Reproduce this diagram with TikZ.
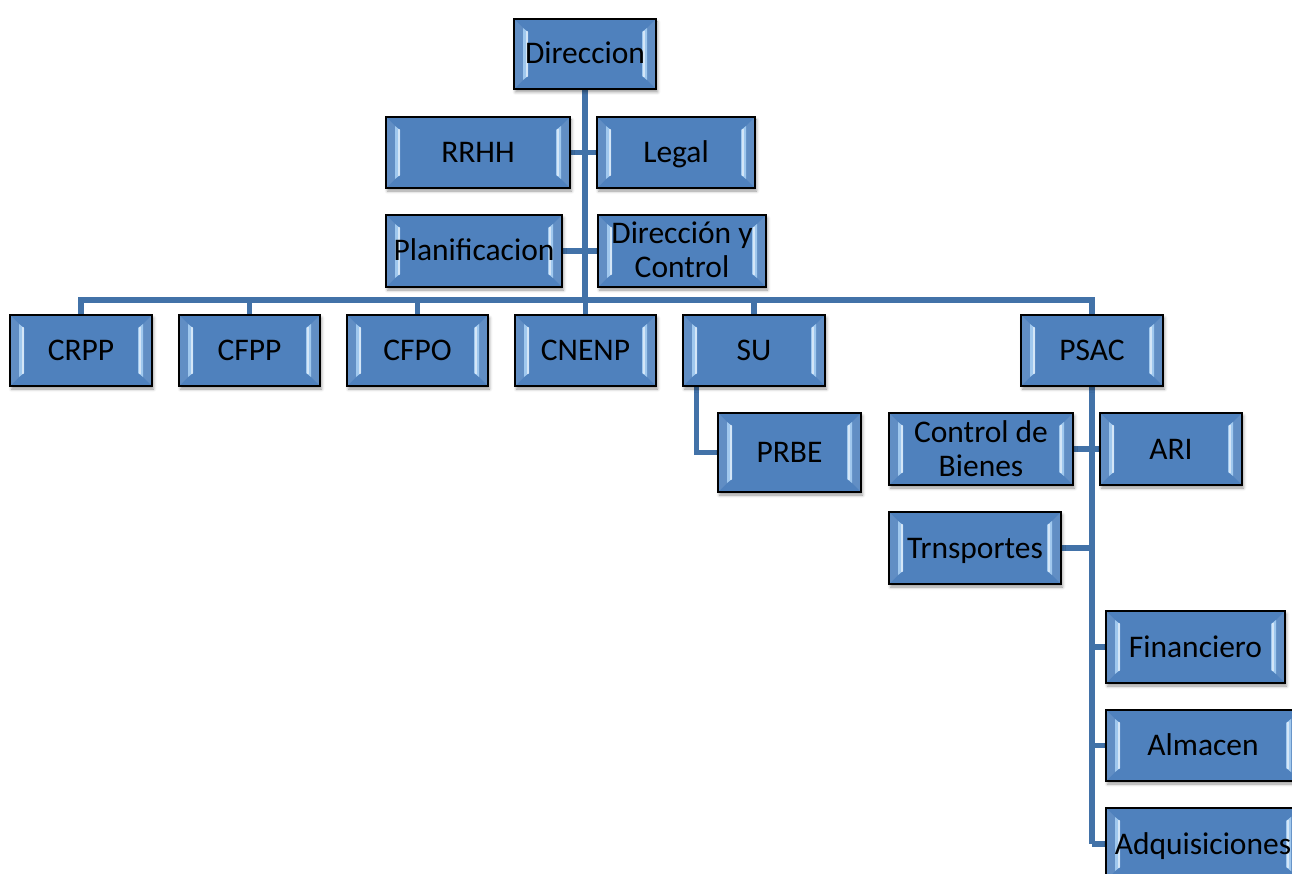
\documentclass[tikz,border=0pt]{standalone}
\usepackage{fontspec}
\setmainfont{Carlito}
\usetikzlibrary{calc,shadows.blur}
\pgfdeclarelayer{bg}
\pgfsetlayers{bg,main}
\definecolor{boxblue}{RGB}{79,129,189}
\definecolor{linkblue}{RGB}{66,114,168}
\definecolor{bevlight}{RGB}{160,200,238}
\tikzset{
  orgbox/.style={draw=black, line width=1.4pt, fill=boxblue, inner sep=0pt,
    align=center, text=black, font=\fontsize{31.5}{34}\selectfont,
    text height=20pt, text depth=0pt,
    blur shadow={shadow xshift=1.5pt, shadow yshift=-3pt, shadow blur radius=3pt, shadow opacity=40},
    path picture={
      \fill[boxblue!90!white]
        ($(path picture bounding box.north west)+(1,1)$) --
        ($(path picture bounding box.north west)+(9,9)$) --
        ($(path picture bounding box.south west)+(9,-9)$) --
        ($(path picture bounding box.south west)+(1,-1)$) -- cycle;
      \fill[boxblue!90!white]
        ($(path picture bounding box.north east)+(-1,1)$) --
        ($(path picture bounding box.north east)+(-9,9)$) --
        ($(path picture bounding box.south east)+(-9,-9)$) --
        ($(path picture bounding box.south east)+(-1,-1)$) -- cycle;
      \fill[bevlight]
        ($(path picture bounding box.north west)+(9,9)$) --
        ($(path picture bounding box.north west)+(14,13)$) --
        ($(path picture bounding box.south west)+(14,-13)$) --
        ($(path picture bounding box.south west)+(9,-9)$) -- cycle;
      \fill[bevlight]
        ($(path picture bounding box.north east)+(-9,9)$) --
        ($(path picture bounding box.north east)+(-14,13)$) --
        ($(path picture bounding box.south east)+(-14,-13)$) --
        ($(path picture bounding box.south east)+(-9,-9)$) -- cycle;
      \fill[white, opacity=0.55]
        ($(path picture bounding box.north west)+(11.5,12)$) rectangle
        ($(path picture bounding box.south west)+(13.5,-12)$);
      \fill[white, opacity=0.55]
        ($(path picture bounding box.north east)+(-11.5,12)$) rectangle
        ($(path picture bounding box.south east)+(-13.5,-12)$);
    }},
  twoline/.style={text height=54pt, text depth=0pt},
  link/.style={draw=linkblue, line width=5.5pt}
}
\newcommand{\obox}[7][]{%
  \pgfmathsetmacro{\bw}{#5-#3}\pgfmathsetmacro{\bh}{#6-#4}%
  \pgfmathsetmacro{\bx}{(#3+#5)/2}\pgfmathsetmacro{\by}{(#4+#6)/2}%
  \node[orgbox, minimum width=\bw pt, minimum height=\bh pt, #1] (#2) at (\bx,\by) {#7};}
\begin{document}
\begin{tikzpicture}[x=1pt,y=-1pt]
\useasboundingbox (0,0) rectangle (1292,874);
\obox{dir}{514}{19}{656}{89}{Direccion}
\obox{rrhh}{386}{117}{570}{188}{RRHH}
\obox{legal}{597}{117}{755}{188}{Legal}
\obox{plan}{386}{215}{562}{287}{Planificacion}
\obox[twoline]{dyc}{598}{215}{766}{287}{Dirección y\\Control}
\obox{crpp}{10}{315}{152}{386}{CRPP}
\obox{cfpp}{179}{315}{320}{386}{CFPP}
\obox{cfpo}{347}{315}{488}{386}{CFPO}
\obox{cnenp}{515}{315}{656}{386}{CNENP}
\obox{su}{683}{315}{825}{386}{SU}
\obox{psac}{1021}{315}{1163}{386}{PSAC}
\obox{prbe}{718}{413}{861}{492}{PRBE}
\obox[twoline]{cdb}{889}{413}{1073}{485}{Control de\\Bienes}
\obox{ari}{1100}{413}{1242}{485}{ARI}
\obox{trn}{889}{512}{1061}{584}{Trnsportes}
\obox{fin}{1106}{611}{1285}{683}{Financiero}
\obox{alm}{1106}{710}{1300}{781}{Almacen}
\obox{adq}{1106}{808}{1300}{880}{Adquisiciones}
\coordinate (bus) at (585,300);
\begin{pgfonlayer}{bg}
  \draw[link] (dir.south) -- (bus);
  \draw[link] (crpp.north) |- (psac.north |- bus) -- (psac.north);
  \foreach \n in {cfpp,cfpo,cnenp,su}
    \draw[link] (\n.north) -- (\n.north |- bus);
  \draw[link] (rrhh.east) -- (legal.west);
  \draw[link] (plan.east) -- (dyc.west);
  \draw[link] ($(su.south west)+(14,0)$) |- (prbe.west);
  \draw[link] (psac.south) -- (psac.south |- adq.west);
  \draw[link] (cdb.east) -- (ari.west);
  \draw[link] (trn.east) -- (trn.east -| psac.south);
  \foreach \n in {fin,alm,adq}
    \draw[link] (\n.west) -- (\n.west -| psac.south);
\end{pgfonlayer}
\end{tikzpicture}
\end{document}
